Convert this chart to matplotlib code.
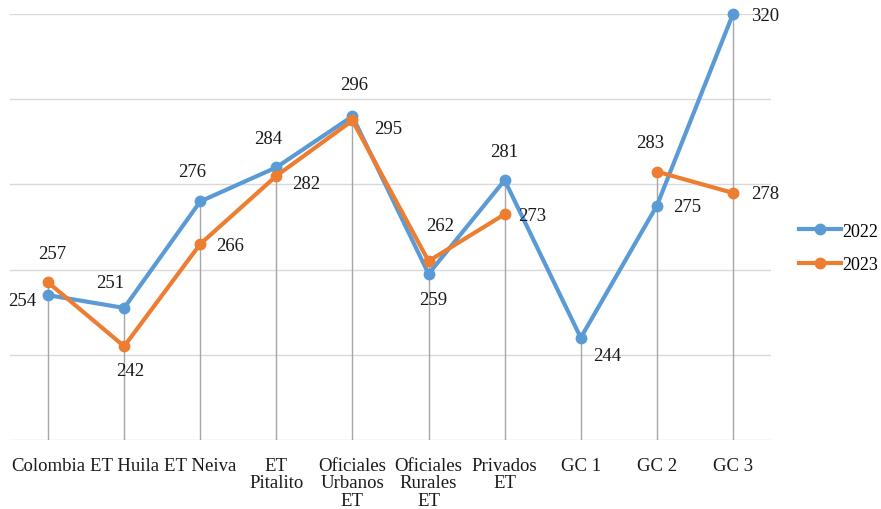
import numpy as np
import matplotlib
matplotlib.use("Agg")
import matplotlib.pyplot as plt

plt.rcParams['font.family'] = ['Liberation Serif', 'DejaVu Serif']

# Data
categories = ["Colombia", "ET Huila", "ET Neiva", "ET\nPitalito", "Oficiales\nUrbanos\nET",
              "Oficiales\nRurales\nET", "Privados\nET", "GC 1", "GC 2", "GC 3"]
vals_2022 = [254, 251, 276, 284, 296, 259, 281, 244, 275, 320]
vals_2023 = [257, 242, 266, 282, 295, 262, 273, np.nan, 283, 278]

# label offsets in pixels (dx, dy)
off_2022 = [(-26, -5), (-14, 25), (-8, 30), (-8, 29), (2, 32), (5, -26), (0, 29), (26, -18), (30, -1), (32, -1)]
off_2023 = [(4, 29), (6, -24), (30, -1), (30, -8), (36, -8), (12, 36), (28, -1), None, (-7, 29), (32, -1)]

blue = "#5B9BD5"
orange = "#ED7D31"
fs = 13.5

fig = plt.figure(figsize=(8.81, 5.10), dpi=100)
ax = fig.add_axes([10 / 881, 69 / 510, 761 / 881, 426 / 510])

x = np.arange(len(categories))

# gridlines
for g in [240, 260, 280, 300, 320]:
    ax.axhline(g, color="#D9D9D9", lw=1, zorder=0)
ax.axhline(220, color="#D9D9D9", lw=1, zorder=0)

# drop lines
tops = np.fmax(vals_2022, vals_2023)
ax.vlines(x, 220, tops, color="#A6A6A6", lw=1, zorder=1)

ax.plot(x, vals_2022, color=blue, lw=3, marker="o", ms=7.5, label="2022", zorder=3, clip_on=False)
ax.plot(x, vals_2023, color=orange, lw=3, marker="o", ms=7.5, label="2023", zorder=4, clip_on=False)

for xi, v, o in zip(x, vals_2022, off_2022):
    ax.annotate(str(v), (xi, v), xytext=o, textcoords="offset pixels",
                ha="center", va="center", fontsize=fs, color="#1a1a1a")
for xi, v, o in zip(x, vals_2023, off_2023):
    if o is None or np.isnan(v):
        continue
    ax.annotate(str(int(v)), (xi, v), xytext=o, textcoords="offset pixels",
                ha="center", va="center", fontsize=fs, color="#1a1a1a")

ax.set_xlim(-0.5, len(categories) - 0.5)
ax.set_ylim(220, 320)
ax.set_xticks(x)
ax.set_xticklabels(categories, fontsize=fs, linespacing=1.05, color="#1a1a1a")
ax.tick_params(axis="x", length=0, pad=12)
ax.set_yticks([])
for s in ax.spines.values():
    s.set_visible(False)

ax.legend(loc="center left", bbox_to_anchor=(1.037, 0.451), frameon=False, borderpad=0,
          fontsize=13, handlelength=2.3, handletextpad=0.1, labelspacing=0.9,
          borderaxespad=0)

fig.savefig("out.png", dpi=100)
